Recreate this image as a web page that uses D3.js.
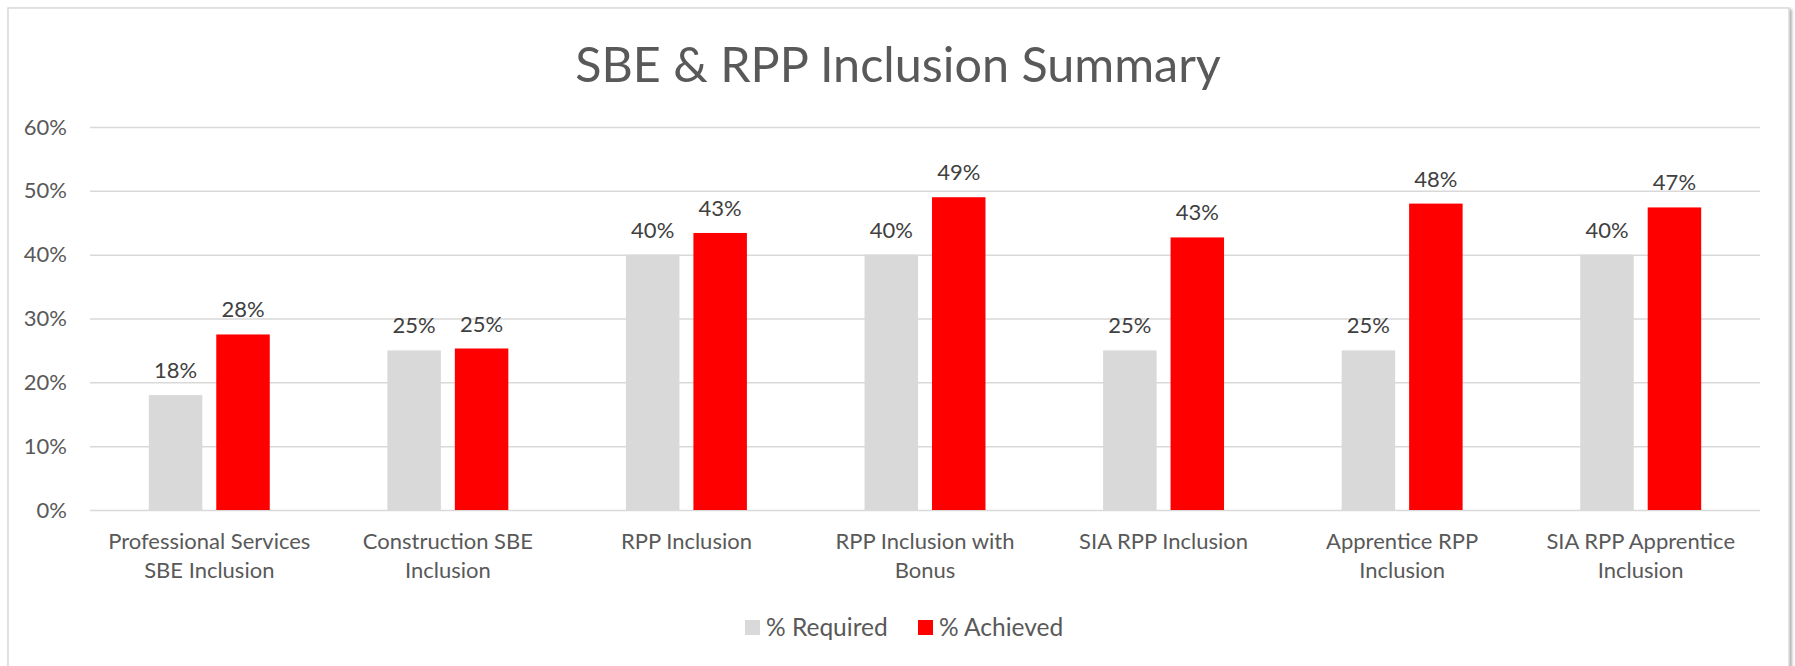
<!DOCTYPE html>
<html>
<head>
<meta charset="UTF-8">
<title>SBE & RPP Inclusion Summary</title>
<script src="https://cdn.jsdelivr.net/npm/d3@7"></script>
<style>
  html, body { margin: 0; padding: 0; background: #fff; }
  svg { display: block; font-family: Lato, "Open Sans", sans-serif; }
</style>
</head>
<body>
<script>
// categories (line breaks as in the picture)
var categories = [
  ["Professional Services", "SBE Inclusion"],
  ["Construction SBE", "Inclusion"],
  ["RPP Inclusion"],
  ["RPP Inclusion with", "Bonus"],
  ["SIA RPP Inclusion"],
  ["Apprentice RPP", "Inclusion"],
  ["SIA RPP Apprentice", "Inclusion"]
];
var seriesNames = ["% Required", "% Achieved"];
var required = [18, 25, 40, 40, 25, 25, 40];
var achieved = [27.5, 25.3, 43.4, 49.0, 42.7, 48.0, 47.4];
var yTicks = [0, 10, 20, 30, 40, 50, 60];
var seriesColors = ["#d9d9d9", "#ff0000"];

var W = 1795, H = 666;
// plot area
var margin = { top: 127, right: 35, bottom: 154, left: 90 };

var svg = d3.select("body").append("svg")
  .attr("width", W)
  .attr("height", H);

// drop shadow for the chart frame
var defs = svg.append("defs");
var f = defs.append("filter").attr("id", "shadow")
  .attr("x", "-1%").attr("y", "-1%").attr("width", "103%").attr("height", "103%");
f.append("feDropShadow").attr("dx", 2).attr("dy", 2).attr("stdDeviation", 1.5)
  .attr("flood-color", "#000").attr("flood-opacity", 0.35);

svg.append("rect")
  .attr("x", 8).attr("y", 8)
  .attr("width", 1781).attr("height", 700)
  .attr("fill", "#fff")
  .attr("stroke", "#d9d9d9")
  .attr("stroke-width", 1.5)
  .attr("filter", "url(#shadow)");

// title
svg.append("text")
  .attr("x", 898).attr("y", 82)
  .attr("text-anchor", "middle")
  .attr("fill", "#595959")
  .style("font-size", "48.5px")
  .text("SBE & RPP Inclusion Summary");

var g = svg.append("g");

var yScale = d3.scaleLinear()
  .domain([0, 60])
  .range([H - margin.bottom - 2, margin.top]);

var x0 = d3.scaleBand()
  .domain(d3.range(categories.length))
  .range([margin.left, W - margin.right])
  .paddingInner(0.493)
  .paddingOuter(0.2465);

var x1 = d3.scaleBand()
  .domain(d3.range(seriesNames.length))
  .range([0, x0.bandwidth()])
  .paddingInner(0.207);

// gridlines + y labels
var yAxis = g.append("g")
  .attr("transform", "translate(" + margin.left + ",0)")
  .call(d3.axisLeft(yScale)
    .tickValues(yTicks)
    .tickSize(-(W - margin.right - margin.left))
    .tickPadding(23)
    .tickFormat(function(d) { return d + "%"; }));
yAxis.select(".domain").remove();
yAxis.selectAll(".tick line").attr("stroke", "#d9d9d9").attr("stroke-width", 1.5);
yAxis.selectAll(".tick text")
  .attr("fill", "#595959")
  .style("font-size", "22px")
  .style("font-family", "Lato, sans-serif");

// bars
var data = categories.map(function(c, i) { return [required[i], achieved[i]]; });

var groups = g.selectAll(".grp")
  .data(data)
  .enter().append("g")
  .attr("class", "grp")
  .attr("transform", function(d, i) { return "translate(" + x0(i) + ",0)"; });

groups.selectAll("rect")
  .data(function(d) { return d; })
  .enter().append("rect")
  .attr("x", function(d, j) { return x1(j); })
  .attr("width", x1.bandwidth())
  .attr("y", function(d) { return yScale(d); })
  .attr("height", function(d) { return yScale(0) - yScale(d); })
  .attr("fill", function(d, j) { return seriesColors[j]; });

// data labels
groups.selectAll(".lbl")
  .data(function(d) { return d; })
  .enter().append("text")
  .attr("class", "lbl")
  .attr("x", function(d, j) { return x1(j) + x1.bandwidth() / 2; })
  .attr("y", function(d) { return yScale(d) - 17; })
  .attr("text-anchor", "middle")
  .attr("fill", "#404040")
  .style("font-size", "22px")
  .text(function(d) { return Math.round(d) + "%"; });

// category labels
var xAxis = g.append("g")
  .attr("transform", "translate(0," + yScale(0) + ")")
  .call(d3.axisBottom(x0).tickSize(0).tickFormat(""));
xAxis.select(".domain").remove();
xAxis.selectAll(".tick").each(function(i) {
  var t = d3.select(this).append("text")
    .attr("text-anchor", "middle")
    .attr("fill", "#595959")
    .style("font-size", "22px")
    .style("font-family", "Lato, sans-serif")
    .attr("y", 39);
  categories[i].forEach(function(line, k) {
    t.append("tspan").attr("x", 0).attr("dy", k === 0 ? 0 : 28.5).text(line);
  });
});

// legend
var legend = svg.append("g").attr("transform", "translate(745,620)");
var lx = [0, 173];
seriesNames.forEach(function(name, j) {
  var it = legend.append("g").attr("transform", "translate(" + lx[j] + ",0)");
  it.append("rect").attr("width", 15).attr("height", 15).attr("fill", seriesColors[j]);
  it.append("text")
    .attr("x", 21).attr("y", 16)
    .attr("fill", "#595959")
    .style("font-size", "24.5px")
    .text(name);
});
</script>
</body>
</html>
